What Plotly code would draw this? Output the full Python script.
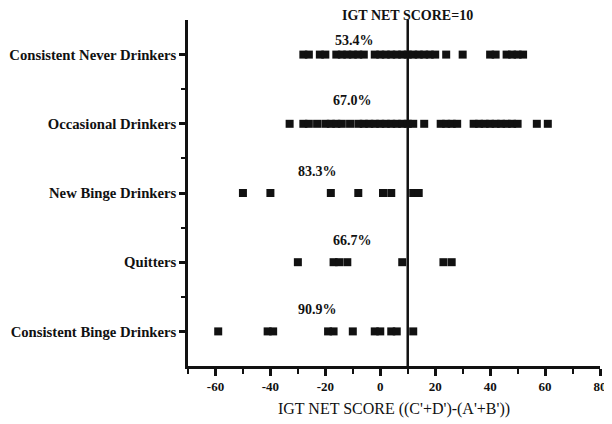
import plotly.graph_objects as go

# groups, bottom to top
categories = ["Consistent Binge Drinkers", "Quitters", "New Binge Drinkers",
              "Occasional Drinkers", "Consistent Never Drinkers"]

# IGT net scores of each subject, per group
binge = [-59, -41, -39, -19, -17, -10, -2, 0, 4, 6, 12]
quitters = [-30, -17, -15, -12, 8, 23, 26]
new_binge = [-50, -40, -18, -8, 1, 4, 12, 14]
occasional = [-33, -28, -26, -23, -20, -18, -16, -14, -11,
              -8, -6, -4, -2, 0, 2, 4, 6, 8, 10, 12, 16,
              22, 24, 26, 28, 34, 36, 38, 40, 42, 44, 46, 48, 50, 57, 61]
never = [-28, -26, -22, -20, -16, -14, -12, -10, -8, -6,
         -2, 0, 2, 4, 6, 8, 10, 12, 14, 16, 18, 20, 24, 30,
         40, 42, 46, 48, 50, 52]

pct_labels = ["90.9%", "66.7%", "83.3%", "67.0%", "53.4%"]
cutoff = 10

x_ticks = [-60, -40, -20, 0, 20, 40, 60, 80]
x_minor = [-70, -50, -30, -10, 10, 30, 50, 70]

serif = "Liberation Serif"
ink = "#111111"

rows = [binge, quitters, new_binge, occasional, never]

fig = go.Figure()
for i, vals in enumerate(rows):
    fig.add_trace(go.Scatter(
        x=vals, y=[i] * len(vals), mode="markers",
        marker=dict(symbol="square", size=8, color=ink, line=dict(width=0)),
        name=categories[i], showlegend=False))

# where the percent labels sit (x in data units, y above each row)
pct_x = [-23, -10, -23, -10, -9.5]
pct_dy = [0.32, 0.32, 0.31, 0.33, 0.21]
for i, txt in enumerate(pct_labels):
    fig.add_annotation(x=pct_x[i], y=i + pct_dy[i], text=txt, showarrow=False,
                       font=dict(family=serif, size=14, color=ink, weight="bold"))

fig.add_shape(type="line", x0=cutoff, x1=cutoff, yref="paper", y0=0, y1=1,
              line=dict(color=ink, width=2.5))
fig.add_annotation(x=cutoff, y=1, yref="paper", yanchor="bottom", yshift=-5,
                   text="IGT NET SCORE=%d" % cutoff, showarrow=False,
                   font=dict(family=serif, size=14, color=ink, weight="bold"))

# the page body adds an 8px offset, margins allow for it
fig.update_layout(
    width=612, height=424,
    margin=dict(l=180, r=20, t=12, b=66),
    paper_bgcolor="white", plot_bgcolor="white",
    xaxis=dict(
        range=[-70, 80], tickmode="array", tickvals=x_ticks,
        ticktext=[str(v) for v in x_ticks], automargin=False,
        ticks="outside", ticklen=7, tickwidth=2.5, tickcolor=ink,
        minor=dict(tickmode="array", tickvals=x_minor, ticks="outside",
                   ticklen=5, tickwidth=2, tickcolor=ink),
        showline=True, linewidth=2.5, linecolor=ink,
        showgrid=False, zeroline=False,
        tickfont=dict(family=serif, size=13, color=ink, weight="bold"),
        title=dict(text="IGT NET SCORE ((C'+D')-(A'+B'))", standoff=10,
                   font=dict(family=serif, size=16, color=ink)),
    ),
    yaxis=dict(
        range=[-0.5, 4.5], tickmode="array", tickvals=list(range(5)),
        ticktext=categories, automargin=False,
        ticks="outside", ticklen=6, tickwidth=2.5, tickcolor=ink,
        minor=dict(tickmode="array", tickvals=[0.5, 1.5, 2.5, 3.5],
                   ticks="outside", ticklen=4, tickwidth=2, tickcolor=ink),
        showline=True, linewidth=2.5, linecolor=ink,
        showgrid=False, zeroline=False,
        tickfont=dict(family=serif, size=14.7, color=ink, weight="bold"),
    ),
)

fig.write_html("out.html")
